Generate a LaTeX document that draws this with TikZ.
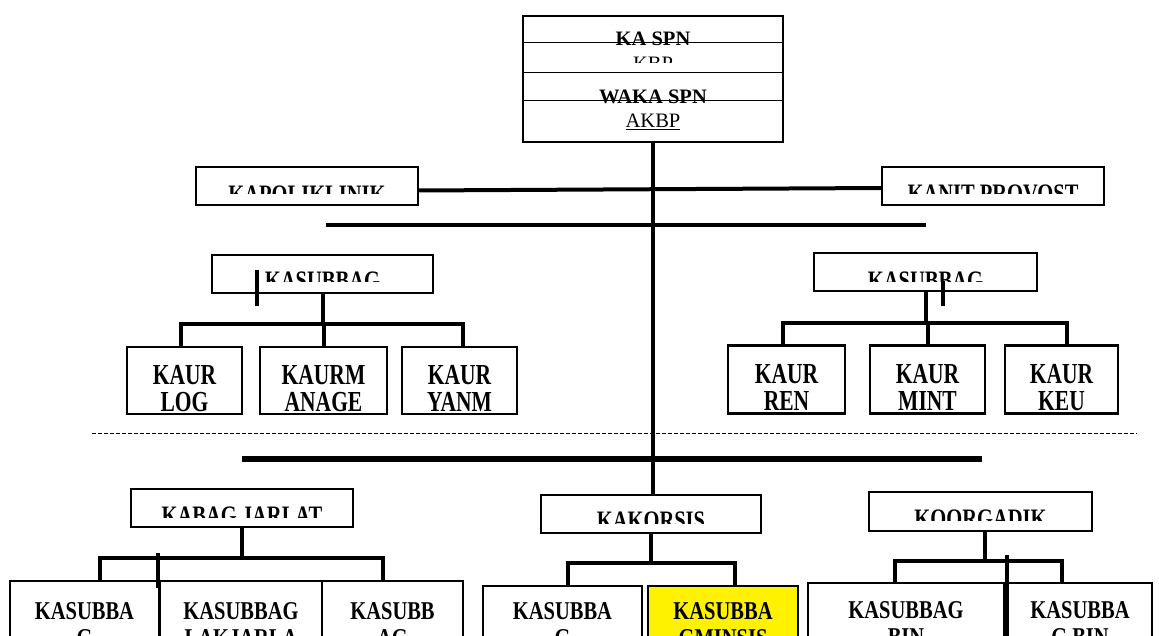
\documentclass[tikz,border=0pt]{standalone}
\usepackage{graphicx}
\usepackage{fontspec}
\setmainfont{Liberation Serif}
\newcommand{\vsc}[2]{\scalebox{1}[#1]{#2}}
\begin{document}
\begin{tikzpicture}[x=1pt,y=-1pt,
  box/.style={draw, line width=2.4pt, fill=white, inner sep=0pt, outer sep=0pt},
  conn/.style={line width=4pt},
  stray/.style={line width=4pt},
  lbl/.style={font=\fontsize{20.5}{24}\selectfont\bfseries, inner sep=0pt, anchor=base},
  kaur/.style={font=\fontsize{21.5}{24}\selectfont\bfseries, inner sep=0pt, anchor=base},
  plain/.style={font=\fontsize{20.5}{24}\selectfont, inner sep=0pt, anchor=base}]

\useasboundingbox (0,0) rectangle (1159,636);
\clip (0,0) rectangle (1159,636);

% ---------- coordinates for bars ----------
\coordinate (bar1a) at (326,225);
\coordinate (bar1b) at (926,225);
\coordinate (bar2a) at (242,459);
\coordinate (bar2b) at (982,459);
\coordinate (dsa) at (92,433);
\coordinate (dsb) at (1137,433);
\coordinate (hL1) at (181,324);
\coordinate (hL2) at (463,324);
\coordinate (hR1) at (783,323);
\coordinate (hR2) at (1067,323);
\coordinate (hJ1) at (100,558);
\coordinate (hJ2) at (383,558);
\coordinate (hK1) at (568,563);
\coordinate (hK2) at (735,563);
\coordinate (hG1) at (895,561);
\coordinate (hG2) at (1062,561);
\coordinate (hGv) at (985,561);

% ---------- boxes (nodes) ----------
\node[box, line width=1.3pt, minimum width=260pt, minimum height=126pt] (top) at (653,79) {};
\node[box, minimum width=222pt, minimum height=38pt] (kapol) at (307,186) {};
\node[box, minimum width=222pt, minimum height=38pt] (kanit) at (993,186) {};
\node[box, minimum width=221pt, minimum height=38pt] (ksL) at (322.5,274) {};
\node[box, minimum width=223pt, minimum height=38pt] (ksR) at (925.5,272) {};
\node[box, minimum width=115pt, minimum height=67pt] (log) at (184.5,380.5) {};
\node[box, minimum width=127pt, minimum height=67pt] (anage) at (323.5,380.5) {};
\node[box, minimum width=115pt, minimum height=67pt] (yanm) at (459.5,380.5) {};
\node[box, minimum width=117pt, minimum height=68pt] (ren) at (786.5,379.5) {};
\node[box, minimum width=115pt, minimum height=68pt] (mint) at (927.5,379.5) {};
\node[box, minimum width=113pt, minimum height=68pt] (keu) at (1061.5,379.5) {};
\node[box, minimum width=222pt, minimum height=38pt] (jarlat) at (242,508) {};
\node[box, minimum width=220pt, minimum height=38pt] (korsis) at (651,514) {};
\node[box, minimum width=223pt, minimum height=39pt] (koorg) at (980.5,511.5) {};
\node[box, minimum width=149pt, minimum height=119pt] (a1) at (84.5,640.5) {};
\node[box, minimum width=162pt, minimum height=119pt] (a2) at (241,640.5) {};
\node[box, minimum width=141pt, minimum height=119pt] (a3) at (392.5,640.5) {};
\node[box, minimum width=159pt, minimum height=114pt] (b1) at (562.5,643) {};
\node[box, fill=yellow, minimum width=150pt, minimum height=114pt] (b2) at (723,643) {};
\node[box, minimum width=196pt, minimum height=117pt] (c1) at (906,641.5) {};
\node[box, minimum width=144pt, minimum height=117pt] (c2) at (1080,641.5) {};

% ---------- connectors ----------
\draw[conn] (top.south) -- (top.south |- korsis.north);
\draw[conn] ([yshift=-4.5pt]kapol.east) -- ([yshift=-2pt]kanit.west);
\draw[conn] (bar1a) -- (bar1b);
\draw[line width=5.5pt] (bar2a) -- (bar2b);
\draw[line width=1pt, dash pattern=on 4pt off 2pt] (dsa) -- (dsb);

\draw[conn] (ksL.south) -- (ksL.south |- hL1);
\draw[conn] (hL1 |- log.north) -- (hL1) -- (hL2) -- (hL2 |- yanm.north);
\draw[conn] (anage.north) -- (anage.north |- hL1);

\draw[conn] (ksR.south) -- (ksR.south |- hR1);
\draw[conn] (hR1 |- ren.north) -- (hR1) -- (hR2) -- (hR2 |- keu.north);
\draw[conn] (mint.north) -- (mint.north |- hR1);

\draw[conn] (jarlat.south) -- (jarlat.south |- hJ1);
\draw[conn] (hJ1 |- a1.north) -- (hJ1) -- (hJ2) -- (hJ2 |- a3.north);

\draw[conn] (korsis.south) -- (korsis.south |- hK1);
\draw[conn] (hK1 |- b1.north) -- (hK1) -- (hK2) -- (hK2 |- b2.north);

\draw[conn] (hGv |- koorg.south) -- (hGv);
\draw[conn] (hG1 |- c1.north) -- (hG1) -- (hG2) -- (hG2 |- c1.north);

% ---------- top box texts ----------
\node[lbl] (tka) at (653,46) {KA SPN};
\begin{scope}
\clip (523,44) rectangle (783,63);
\node[plain] (tkbp) at (653,70.6) {KBP};
\end{scope}
\node[lbl] (twaka) at (653,104) {WAKA SPN};
\node[plain] (takbp) at (653,128) {\underline{AKBP}};
\foreach \yy in {43,73,101} \draw[line width=1pt] (top.west |- 0,\yy) -- (top.east |- 0,\yy);

% ---------- single-line clipped texts ----------
\begin{scope}\clip (kapol.north west) rectangle (kapol.east |- 0,194);
\node[lbl] (tkapol) at (307,203.7) {\vsc{1.3}{KAPOLIKLINIK}};
\end{scope}
\begin{scope}\clip (kanit.north west) rectangle (kanit.east |- 0,194);
\node[lbl] (tkanit) at (993,202.7) {\vsc{1.3}{KANIT PROVOST}};
\end{scope}
\begin{scope}\clip (ksL.north west) rectangle (ksL.east |- 0,282);
\node[lbl] (tksL) at (322.5,289.7) {\vsc{1.3}{KASUBBAG}};
\end{scope}
\begin{scope}\clip (ksR.north west) rectangle (ksR.east |- 0,282);
\node[lbl] (tksR) at (925.5,289.7) {\vsc{1.3}{KASUBBAG}};
\end{scope}
\begin{scope}\clip (jarlat.north west) rectangle (jarlat.east |- 0,517);
\node[lbl] (tjarlat) at (242,524.7) {\vsc{1.3}{KABAG JARLAT}};
\end{scope}
\begin{scope}\clip (korsis.north west) rectangle (korsis.east |- 0,523);
\node[lbl] (tkorsis) at (651,529.7) {\vsc{1.3}{KAKORSIS}};
\end{scope}
\begin{scope}\clip (koorg.north west) rectangle (koorg.east |- 0,520);
\node[lbl] (tkoorg) at (980.5,527.7) {\vsc{1.3}{KOORGADIK}};
\end{scope}

% ---------- KAUR boxes ----------
\begin{scope}\clip ([shift={(1.2pt,-1.2pt)}]log.south west) rectangle ([shift={(-1.2pt,1.2pt)}]log.north east);
\node[kaur] (tlog1) at (184.5,384) {\vsc{1.35}{KAUR}};
\node[kaur] (tlog2) at (184.5,411) {\vsc{1.35}{LOG}};
\end{scope}
\begin{scope}\clip ([shift={(1.2pt,-1.2pt)}]anage.south west) rectangle ([shift={(-1.2pt,1.2pt)}]anage.north east);
\node[kaur] (tan1) at (323.5,384) {\vsc{1.35}{KAURM}};
\node[kaur] (tan2) at (323.5,411) {\vsc{1.35}{ANAGE}};
\end{scope}
\begin{scope}\clip ([shift={(1.2pt,-1.2pt)}]yanm.south west) rectangle ([shift={(-1.2pt,1.2pt)}]yanm.north east);
\node[kaur] (tya1) at (459.5,384) {\vsc{1.35}{KAUR}};
\node[kaur] (tya2) at (459.5,411) {\vsc{1.35}{YANM}};
\end{scope}
\begin{scope}\clip ([shift={(1.2pt,-1.2pt)}]ren.south west) rectangle ([shift={(-1.2pt,1.2pt)}]ren.north east);
\node[kaur] (tre1) at (786.5,383.5) {\vsc{1.35}{KAUR}};
\node[kaur] (tre2) at (786.5,410.5) {\vsc{1.35}{REN}};
\end{scope}
\begin{scope}\clip ([shift={(1.2pt,-1.2pt)}]mint.south west) rectangle ([shift={(-1.2pt,1.2pt)}]mint.north east);
\node[kaur] (tmi1) at (927.5,383.5) {\vsc{1.35}{KAUR}};
\node[kaur] (tmi2) at (927.5,410.5) {\vsc{1.35}{MINT}};
\end{scope}
\begin{scope}\clip ([shift={(1.2pt,-1.2pt)}]keu.south west) rectangle ([shift={(-1.2pt,1.2pt)}]keu.north east);
\node[kaur] (tke1) at (1061.5,383.5) {\vsc{1.35}{KAUR}};
\node[kaur] (tke2) at (1061.5,410.5) {\vsc{1.35}{KEU}};
\end{scope}

% ---------- bottom boxes ----------
\node[lbl] (ta11) at (84.5,619) {\vsc{1.25}{KASUBBA}};
\node[lbl] (ta12) at (84.5,646) {\vsc{1.25}{G}};
\node[lbl] (ta21) at (241,619) {\vsc{1.25}{KASUBBAG}};
\node[lbl] (ta22) at (241,646) {\vsc{1.25}{LAKJARLA}};
\node[lbl] (ta31) at (392.5,619) {\vsc{1.25}{KASUBB}};
\node[lbl] (ta32) at (392.5,646) {\vsc{1.25}{AG}};
\node[lbl] (tb11) at (562.5,619) {\vsc{1.25}{KASUBBA}};
\node[lbl] (tb12) at (562.5,646) {\vsc{1.25}{G}};
\node[lbl] (tb21) at (723,619) {\vsc{1.25}{KASUBBA}};
\node[lbl] (tb22) at (723,646) {\vsc{1.25}{GMINSIS}};
\node[lbl] (tc11) at (906,618) {\vsc{1.25}{KASUBBAG}};
\node[lbl] (tc12) at (906,645) {\vsc{1.25}{BIN}};
\node[lbl] (tc21) at (1080,618) {\vsc{1.25}{KASUBBA}};
\node[lbl] (tc22) at (1080,645) {\vsc{1.25}{G BIN}};

% ---------- stray short lines ----------
\coordinate (s1a) at (257,270); \coordinate (s1b) at (257,306);
\coordinate (s2a) at (943,281); \coordinate (s2b) at (943,306);
\coordinate (s3a) at (158,553); \coordinate (s3b) at (158,588);
\coordinate (s4a) at (1007,555); \coordinate (s4b) at (1007,640);
\draw[stray] (s1a) -- (s1b);
\draw[stray] (s2a) -- (s2b);
\draw[stray] (s3a) -- (s3b);
\draw[stray] (s4a) -- (s4b);
\end{tikzpicture}
\end{document}
